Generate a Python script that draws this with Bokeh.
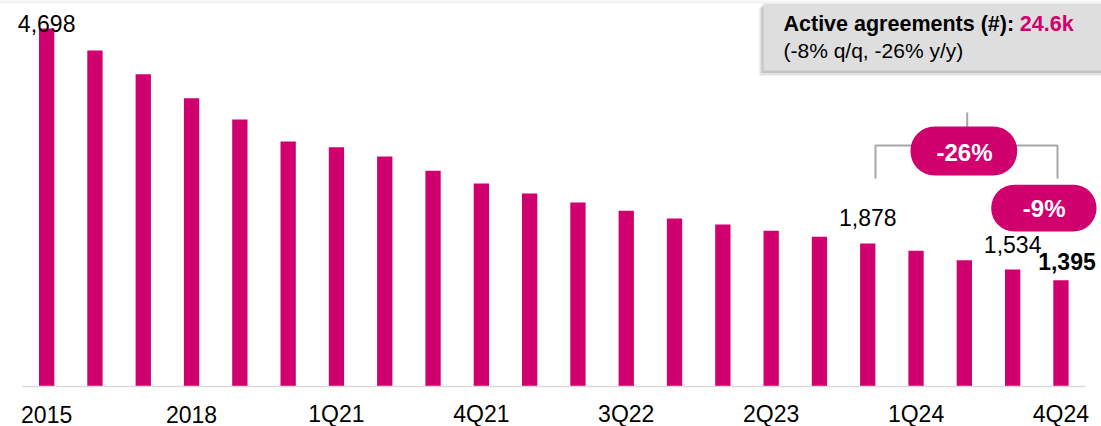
from bokeh.plotting import figure
from bokeh.models import Range1d, BoxAnnotation, Label
from bokeh.core.properties import value
from bokeh.embed import file_html
from bokeh.resources import INLINE

# ---- data ----
categories = ["2015", "2016", "2017", "2018", "2019", "2020",
              "1Q21", "2Q21", "3Q21", "4Q21",
              "1Q22", "2Q22", "3Q22", "4Q22",
              "1Q23", "2Q23", "3Q23", "4Q23",
              "1Q24", "2Q24", "3Q24", "4Q24"]
values = [4698, 4409, 4098, 3783, 3504, 3215, 3140, 3018, 2831, 2664, 2533,
          2415, 2306, 2205, 2126, 2043, 1965, 1878, 1781, 1657, 1534, 1395]
tick_idx = [0, 3, 6, 9, 12, 15, 18, 21]
tick_labels = [categories[i] for i in tick_idx]
labelled_idx = [0, 17, 20]
highlight_idx = 21
callout_title = "Active agreements (#): "
callout_value = "24.6k"
callout_sub = "(-8% q/q, -26% y/y)"
yoy_change = "-26%"
qoq_change = "-9%"

# ---- style / layout ----
MAG = "#D0006F"
FONT = "Liberation Sans"
W, H = 1101, 426
BASE = 386          # pixel row of the baseline
PXU = 48.3          # pixels per category
X0 = -0.5 - 22 / PXU
SCALE = 0.0762      # pixels per unit value
TS = -8.5           # text baseline correction (px)


def px2x(px):
    return X0 + px / PXU


def px2y(py):
    return (BASE - py) / SCALE


p = figure(width=W, height=H, output_backend="svg", toolbar_location=None,
           x_range=Range1d(X0, X0 + W / PXU),
           y_range=Range1d(-(H - BASE) / SCALE, BASE / SCALE),
           y_axis_location=None, x_axis_location=None,
           min_border_left=0, min_border_right=0, min_border_top=0,
           min_border_bottom=0,
           outline_line_color=None, background_fill_color="white",
           border_fill_color="white")
p.grid.visible = False

# top strip
p.add_layout(BoxAnnotation(left=px2x(-5), right=px2x(W + 5), top=px2y(-5),
                           bottom=px2y(3), fill_color="#f4f4f4", fill_alpha=1,
                           line_color=None, level="underlay"))

xs = list(range(len(values)))
p.vbar(x=xs, top=values, bottom=0, width=0.317, fill_color=MAG, line_color=None)

# baseline (category axis line)
p.segment(x0=[-0.5], y0=[0], x1=[len(values) - 0.5], y1=[0],
          line_color="#d9d9d9", line_width=1.5)

# category tick labels
p.text(x=tick_idx, y=[0] * len(tick_idx), text=tick_labels, y_offset=36 + TS,
       text_align="center", text_baseline="alphabetic",
       text_font=value(FONT), text_font_size="23px", text_color="black")

# value labels
p.text(x=labelled_idx, y=[values[i] for i in labelled_idx],
       text=[f"{values[i]:,}" for i in labelled_idx],
       y_offset=[3.7 + TS, -17 + TS, -17 + TS],
       text_align="center", text_baseline="alphabetic",
       text_font=value(FONT), text_font_size="23px", text_color="black")
p.text(x=[highlight_idx], y=[values[highlight_idx]],
       text=[f"{values[highlight_idx]:,}"], x_offset=6, y_offset=-10 + TS,
       text_align="center", text_baseline="alphabetic",
       text_font=value(FONT), text_font_size="23px", text_font_style="bold",
       text_color="black")

# bracket
GRAY = "#a6a6a6"
p.multi_line(xs=[[px2x(966.7), px2x(966.7)],
                 [px2x(875), px2x(875), px2x(1057), px2x(1057)]],
             ys=[[px2y(112), px2y(140)],
                 [px2y(178), px2y(145), px2y(145), px2y(178)]],
             line_color=GRAY, line_width=2)

# pills
p.add_layout(BoxAnnotation(left=px2x(910), right=px2x(1016.7), top=px2y(126),
                           bottom=px2y(175), fill_color=MAG, fill_alpha=1,
                           line_color=None, border_radius=24))
p.add_layout(Label(x=px2x(964), y=px2y(160.7 + TS), text=yoy_change,
                   text_align="center", text_baseline="alphabetic",
                   text_font=FONT, text_font_size="24px",
                   text_font_style="bold", text_color="white"))
p.add_layout(BoxAnnotation(left=px2x(990.7), right=px2x(1096), top=px2y(184.3),
                           bottom=px2y(231), fill_color=MAG, fill_alpha=1,
                           line_color=None, border_radius=23))
p.add_layout(Label(x=px2x(1043.7), y=px2y(216 + TS), text=qoq_change,
                   text_align="center", text_baseline="alphabetic",
                   text_font=FONT, text_font_size="24px",
                   text_font_style="bold", text_color="white"))

# callout box with shadow
p.add_layout(BoxAnnotation(left=px2x(759), right=px2x(W + 10), top=px2y(7),
                           bottom=px2y(75), fill_color="#9a9a9a", fill_alpha=0.3,
                           line_color=None))
p.add_layout(BoxAnnotation(left=px2x(761), right=px2x(W + 10), top=px2y(5),
                           bottom=px2y(72.5), fill_color="#9a9a9a", fill_alpha=0.4,
                           line_color=None))
p.add_layout(BoxAnnotation(left=px2x(763), right=px2x(W + 10), top=px2y(3),
                           bottom=px2y(70), fill_color="#dedede", fill_alpha=1,
                           line_color=None))
p.add_layout(Label(x=px2x(783), y=px2y(32.3 + TS), text=callout_title,
                   text_align="left", text_baseline="alphabetic",
                   text_font=FONT, text_font_size="21.5px",
                   text_font_style="bold", text_color="black"))
p.add_layout(Label(x=px2x(1019.3), y=px2y(32.3 + TS), text=callout_value,
                   text_align="left", text_baseline="alphabetic",
                   text_font=FONT, text_font_size="21.5px",
                   text_font_style="bold", text_color=MAG))
p.add_layout(Label(x=px2x(783), y=px2y(58.5 + TS), text=callout_sub,
                   text_align="left", text_baseline="alphabetic",
                   text_font=FONT, text_font_size="21px", text_color="black"))

open("out.html", "w").write(file_html(p, INLINE))
